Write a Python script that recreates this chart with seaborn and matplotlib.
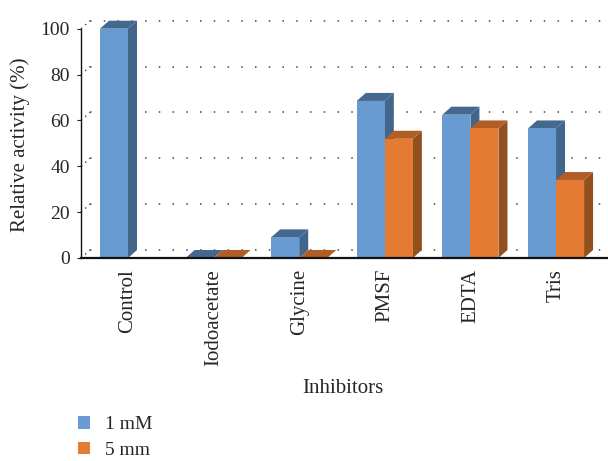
import numpy as np
import pandas as pd
import matplotlib
matplotlib.use("Agg")
import matplotlib.pyplot as plt
from matplotlib.patches import Polygon, Patch
import seaborn as sns

# Relative enzyme activity (%) after treatment with each inhibitor
inhibitors = ["Control", "Iodoacetate", "Glycine", "PMSF", "EDTA", "Tris"]
activity_1mM = [100, 0, 9, 68.5, 62.5, 56.5]
activity_5mM = [np.nan, 0, 0, 52, 56.5, 34]
series_names = ["1 mM", "5 mm"]
y_ticks = [0, 20, 40, 60, 80, 100]

df = pd.DataFrame({
    "Inhibitor": inhibitors * 2,
    "Activity": activity_1mM + activity_5mM,
    "Concentration": [series_names[0]] * len(inhibitors) + [series_names[1]] * len(inhibitors),
})

# face colours: front, top, side
front = {series_names[0]: "#689BD2", series_names[1]: "#E57B33"}
top = {series_names[0]: "#45688F", series_names[1]: "#B05D26"}
side = {series_names[0]: "#42658C", series_names[1]: "#92501F"}

sns.set_style("white")
plt.rcParams["font.family"] = ["Liberation Serif", "DejaVu Serif"]

W, H = 608, 461
fig = plt.figure(figsize=(W / 100, H / 100), dpi=100)
ax = fig.add_axes([81 / W, (H - 258) / H, (W - 81) / W, (258 - 28.7) / H])

sns.barplot(data=df, x="Inhibitor", y="Activity", hue="Concentration",
            order=inhibitors, hue_order=series_names,
            palette=[front[s] for s in series_names], saturation=1,
            width=0.655, gap=0, legend=False, ax=ax, linewidth=0)

ax.set_xlim(-0.549, 5.607)
ax.set_ylim(0, 100)

# depth of the pseudo-3D extrusion, 9 px right and 8 px up
inv = ax.transData.inverted()
p0 = inv.transform(ax.transData.transform((0, 0)))
p1 = inv.transform(ax.transData.transform((0, 0)) + np.array([9, 8]))
dx, dy = p1 - p0

bars = [p for p in ax.patches if np.isfinite(p.get_height())]
bars.sort(key=lambda p: p.get_x())
for k, bar in enumerate(bars):
    x0 = bar.get_x()
    x1 = x0 + bar.get_width()
    h = bar.get_height()
    fc = matplotlib.colors.to_hex(bar.get_facecolor())
    name = series_names[0] if fc.lower() == front[series_names[0]].lower() else series_names[1]
    z = 3 + 3 * k
    ax.add_patch(Polygon([(x1, 0), (x1 + dx, dy), (x1 + dx, h + dy), (x1, h)],
                         closed=True, facecolor=side[name], edgecolor="none",
                         zorder=z, clip_on=False))
    ax.add_patch(Polygon([(x0, h), (x1, h), (x1 + dx, h + dy), (x0 + dx, h + dy)],
                         closed=True, facecolor=top[name], edgecolor="none",
                         zorder=z + 1, clip_on=False))
    bar.set_zorder(z + 2)
    bar.set_clip_on(False)

# dotted gridlines on the back wall, with the side-wall segments
xl0, xl1 = ax.get_xlim()
for v in y_ticks:
    ax.plot([xl0 + dx, xl1], [v + dy, v + dy], color="#444444",
            linestyle=(0, (1, 8)), linewidth=1.1, zorder=1, clip_on=False)
    ax.plot([xl0, xl0 + dx], [v, v + dy], color="#444444",
            linestyle=(0, (1, 3)), linewidth=1.0, zorder=1, clip_on=False)

ax.set_yticks(y_ticks)
ax.set_yticklabels([str(t) for t in y_ticks], fontsize=14)
ax.tick_params(axis="y", direction="out", length=3, width=0.8, color="#222222",
               pad=5, left=True)
ax.tick_params(axis="x", length=0, pad=8)
ax.set_xticks(range(len(inhibitors)))
ax.set_xticklabels(inhibitors, rotation=90, fontsize=15, va="top")

for s in ["top", "right"]:
    ax.spines[s].set_visible(False)
ax.spines["left"].set_linewidth(1.0)
ax.spines["left"].set_color("#111111")
ax.spines["bottom"].set_linewidth(1.6)
ax.spines["bottom"].set_color("#111111")
ax.spines["bottom"].set_zorder(100)

ax.set_xlabel("Inhibitors", fontsize=15)
ax.set_ylabel("Relative activity (%)", fontsize=15)
ax.xaxis.set_label_coords((343 - 81) / (W - 81), -(379 - 258) / (258 - 28.7))
ax.yaxis.set_label_coords(-(81 - 30) / (W - 81), (258 - 145) / (258 - 28.7))

handles = [Patch(facecolor=front[s], edgecolor="none") for s in series_names]
fig.legend(handles, series_names, loc="upper left",
           bbox_to_anchor=(78 / W, 1 - 416 / H), frameon=False, fontsize=14,
           handlelength=0.62, handleheight=0.62, handletextpad=0.75,
           labelspacing=0.45, borderpad=0, borderaxespad=0)

fig.savefig("out.png", dpi=100, facecolor="white")
